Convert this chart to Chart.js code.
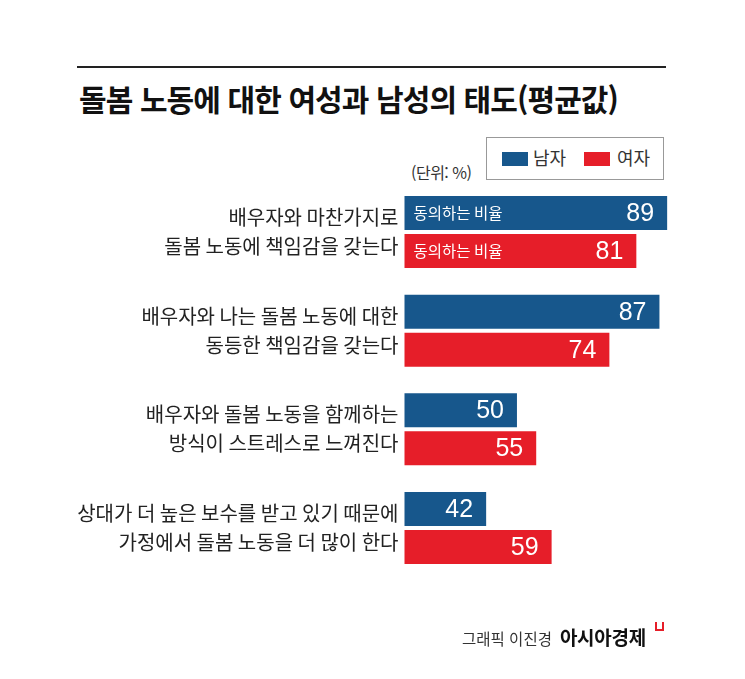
<!DOCTYPE html>
<html lang="ko">
<head>
  <meta charset="UTF-8" />
  <title>돌봄 노동에 대한 여성과 남성의 태도</title>
  <script src="https://cdn.jsdelivr.net/npm/chart.js"></script>
  <style>
    html, body { margin: 0; padding: 0; background: #fff; }
    body { width: 745px; height: 679px; position: relative; overflow: hidden;
           font-family: "Noto Sans CJK KR", "Noto Sans", sans-serif; color: #222; }
    #chart { position: absolute; left: 0; top: 0; }
    .rule { position: absolute; left: 77px; top: 66px; width: 589px; height: 2px; background: #222; }
    h1 { position: absolute; left: 79px; top: 76px; margin: 0; font-size: 30px; font-weight: 700;
         letter-spacing: -0.9px; color: #111; white-space: nowrap; }
    .unit { position: absolute; left: 411px; top: 160px; font-size: 16px; color: #333; letter-spacing: -0.5px; }
    .legend { position: absolute; left: 486px; top: 137px; width: 178px; height: 43px;
              border: 1px solid #999; box-sizing: border-box; }
    .legend span { position: absolute; top: 8px; font-size: 18px; line-height: 22px; color: #333; }
    .legend i { position: absolute; top: 14px; width: 26px; height: 14px; }
    .source { position: absolute; left: 462px; top: 623px; font-size: 15.5px; color: #333; white-space: nowrap; }
    .source b { font-size: 19px; color: #111; margin-left: 8px; letter-spacing: -0.3px; }
    .mark { position: absolute; left: 655px; top: 622px; width: 5px; height: 7px;
            border: 2px solid #e61e29; border-top: none; }
  </style>
</head>
<body>
  <div class="rule"></div>
  <h1>돌봄 노동에 대한 여성과 남성의 태도(평균값)</h1>
  <div class="unit">(단위: %)</div>
  <div class="legend" id="legend"></div>
  <canvas id="chart" width="745" height="679"></canvas>
  <div class="source">그래픽 이진경<b>아시아경제</b></div>
  <div class="mark"></div>

  <script>
    const categories = [
      ["배우자와 마찬가지로", "돌봄 노동에 책임감을 갖는다"],
      ["배우자와 나는 돌봄 노동에 대한", "동등한 책임감을 갖는다"],
      ["배우자와 돌봄 노동을 함께하는", "방식이 스트레스로 느껴진다"],
      ["상대가 더 높은 보수를 받고 있기 때문에", "가정에서 돌봄 노동을 더 많이 한다"]
    ];
    const seriesNames = ["남자", "여자"];
    const maleValues = [89, 87, 50, 42];
    const femaleValues = [81, 74, 55, 59];
    const innerNote = "동의하는 비율";

    const colors = ["#17578c", "#e61e29"];

    // legend in the box
    const legend = document.getElementById("legend");
    const legendX = [[15, 46], [97, 130]];
    seriesNames.forEach((name, i) => {
      legend.innerHTML += `<i style="left:${legendX[i][0]}px;background:${colors[i]}"></i>` +
        `<span style="left:${legendX[i][1]}px">${name}</span>`;
    });

    // numbers inside the bars
    const barLabels = {
      id: "barLabels",
      afterDatasetsDraw(chart) {
        const ctx = chart.ctx;
        ctx.save();
        ctx.fillStyle = "#fff";
        ctx.textBaseline = "middle";
        chart.data.datasets.forEach((ds, di) => {
          chart.getDatasetMeta(di).data.forEach((bar, i) => {
            ctx.font = "25px 'Liberation Sans', Arial, sans-serif";
            ctx.textAlign = "right";
            ctx.fillText(ds.data[i], bar.x - 13, bar.y + 1);
            if (i === 0) {
              ctx.font = "15.5px 'Noto Sans CJK KR', sans-serif";
              ctx.textAlign = "left";
              ctx.fillText(innerNote, chart.chartArea.left + 9, bar.y);
            }
          });
        });
        ctx.restore();
      }
    };

    new Chart(document.getElementById("chart"), {
      type: "bar",
      data: {
        labels: categories,
        datasets: [
          { label: seriesNames[0], data: maleValues, backgroundColor: colors[0] },
          { label: seriesNames[1], data: femaleValues, backgroundColor: colors[1] }
        ]
      },
      options: {
        indexAxis: "y",
        responsive: false,
        animation: false,
        events: [],
        categoryPercentage: 0.77,
        barPercentage: 0.895,
        layout: { padding: { left: 0, top: 182.6, right: 74, bottom: 101.6 } },
        plugins: { legend: { display: false }, tooltip: { enabled: false } },
        scales: {
          x: { display: false, min: 20.8, max: 90 },
          y: {
            grid: { display: false, drawTicks: false },
            border: { display: false },
            ticks: {
              color: "#222",
              padding: 6,
              font: { family: "'Noto Sans CJK KR', sans-serif", size: 20, lineHeight: 1.45 }
            },
            afterFit(scale) { scale.width = 404.5; }
          }
        }
      },
      plugins: [barLabels]
    });
  </script>
</body>
</html>
